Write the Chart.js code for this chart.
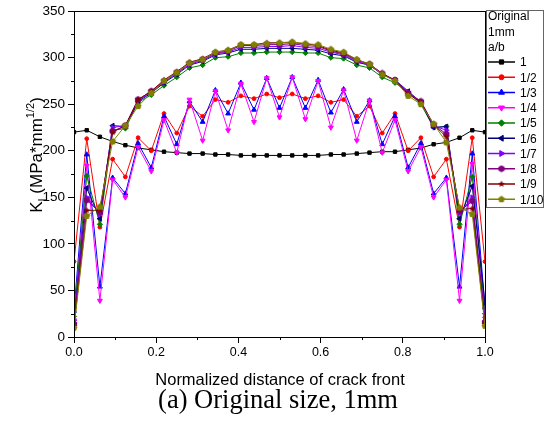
<!DOCTYPE html>
<html>
<head>
<meta charset="utf-8">
<script src="https://cdn.jsdelivr.net/npm/chart.js@4.4.0/dist/chart.umd.min.js"></script>
<style>
  body { margin: 0; background: #fff; }
</style>
</head>
<body>
<canvas id="kChart" width="554" height="422"></canvas>
<script>
// positions along the crack front (33 nodes)
const xPos = [0, 0.031, 0.063, 0.094, 0.125, 0.156, 0.188, 0.219, 0.25, 0.281, 0.313,
  0.344, 0.375, 0.406, 0.438, 0.469, 0.5, 0.531, 0.563, 0.594, 0.625, 0.656, 0.688,
  0.719, 0.75, 0.781, 0.813, 0.844, 0.875, 0.906, 0.938, 0.969, 1];

const labels = ["1", "1/2", "1/3", "1/4", "1/5", "1/6", "1/7", "1/8", "1/9", "1/10"];

// K_I values, one list per a/b ratio
const ab1 = [220, 222, 215, 210, 206, 203, 201, 199, 198, 197, 197, 196, 196, 195, 195, 195, 195,
  195, 195, 195, 196, 196, 197, 198, 199, 199, 201, 203, 207, 209, 214, 222, 220];
const ab2 = [81, 213, 118, 191, 172, 214, 200, 240, 219, 248, 237, 255, 252, 259, 256, 261, 257,
  261, 256, 259, 252, 255, 237, 248, 219, 240, 200, 214, 172, 191, 118, 214, 81];
const ab3 = [28, 196, 54, 171, 154, 208, 182, 237, 207, 253, 231, 265, 240, 273, 244, 278, 246,
  279, 246, 276, 241, 266, 231, 254, 207, 237, 182, 208, 154, 171, 54, 197, 32];
const ab4 = [18, 184, 39, 169, 150, 204, 178, 233, 198, 255, 211, 264, 222, 272, 231, 278, 236,
  279, 234, 275, 225, 265, 211, 254, 198, 233, 178, 204, 150, 169, 39, 186, 20];
const ab5 = [22, 173, 121, 222, 224, 252, 260, 270, 279, 289, 292, 300, 301, 305, 305, 306, 306,
  306, 305, 305, 300, 299, 292, 289, 279, 273, 263, 250, 225, 226, 121, 172, 25];
const ab6 = [15, 160, 127, 227, 226, 253, 262, 273, 282, 292, 296, 303, 305, 309, 309, 310, 310,
  310, 309, 308, 304, 302, 295, 292, 282, 276, 264, 252, 225, 226, 127, 162, 36];
const ab7 = [18, 150, 132, 225, 227, 254, 263, 274, 283, 293, 297, 304, 306, 311, 311, 312, 312,
  313, 311, 310, 306, 303, 296, 292, 282, 276, 263, 253, 227, 222, 133, 150, 20];
const ab8 = [14, 147, 134, 221, 227, 255, 264, 275, 284, 294, 298, 305, 307, 313, 313, 314, 314,
  315, 313, 312, 307, 304, 297, 293, 283, 276, 262, 253, 228, 218, 135, 146, 16];
const ab9 = [12, 136, 136, 220, 227, 255, 264, 276, 285, 295, 299, 306, 308, 314, 314, 316, 316,
  316, 315, 313, 308, 305, 298, 293, 283, 275, 261, 252, 228, 215, 137, 138, 14];
const ab10 = [10, 130, 140, 210, 227, 248, 262, 275, 284, 294, 298, 306, 308, 314, 314, 315, 316,
  317, 315, 314, 309, 306, 298, 293, 282, 275, 259, 250, 229, 209, 139, 132, 12];

const allSeries = [ab1, ab2, ab3, ab4, ab5, ab6, ab7, ab8, ab9, ab10];
const colors = ["#000000", "#ff0000", "#0000ff", "#ff00ff", "#008000",
  "#000080", "#8000ff", "#800080", "#800000", "#808000"];

// small bitmaps for the marker shapes Chart.js lacks
function shapeCanvas(color, sides, star) {
  const c = document.createElement("canvas");
  c.width = 8; c.height = 8;
  const g = c.getContext("2d");
  g.fillStyle = color;
  g.beginPath();
  const n = star ? sides * 2 : sides;
  for (let i = 0; i < n; i++) {
    const ang = -Math.PI / 2 + i * Math.PI * 2 / n;
    const r = star && i % 2 ? 1.6 : 3.6;
    g.lineTo(4 + r * Math.cos(ang), 4 + r * Math.sin(ang));
  }
  g.closePath();
  g.fill();
  return c;
}

const markers = [
  { style: "rect", rot: 0, r: 2.4 },
  { style: "circle", rot: 0, r: 1.9 },
  { style: "triangle", rot: 0, r: 2.8 },
  { style: "triangle", rot: 180, r: 2.8 },
  { style: "rectRot", rot: 0, r: 2.6 },
  { style: "triangle", rot: -90, r: 2.8 },
  { style: "triangle", rot: 90, r: 2.8 },
  { style: shapeCanvas(colors[7], 6, false), rot: 0, r: 2.5 },
  { style: shapeCanvas(colors[8], 5, true), rot: 0, r: 2.5 },
  { style: shapeCanvas(colors[9], 5, false), rot: 0, r: 2.5 }
];

const datasets = allSeries.map((vals, i) => ({
  label: labels[i],
  data: xPos.map((x, j) => ({ x: x, y: vals[j] })),
  borderColor: colors[i],
  backgroundColor: colors[i],
  borderWidth: 1,
  pointStyle: markers[i].style,
  pointRotation: markers[i].rot,
  pointRadius: markers[i].r,
  pointBorderWidth: 1,
  order: allSeries.length - i
}));

const font = "Liberation Sans";

// frame, minor ticks, axis titles, caption and the boxed legend
const decor = {
  id: "decor",
  afterDraw(chart) {
    const { ctx, chartArea: a, scales } = chart;
    ctx.save();
    ctx.strokeStyle = "#000";
    ctx.lineWidth = 1;
    ctx.strokeRect(Math.round(a.left) + 0.5, Math.round(a.top) + 0.5,
      Math.round(a.right - a.left), Math.round(a.bottom - a.top));

    ctx.beginPath();
    scales.x.ticks.forEach((t, i) => {
      if (i % 2 === 1) {
        const px = Math.round(scales.x.getPixelForValue(t.value)) + 0.5;
        ctx.moveTo(px, a.bottom); ctx.lineTo(px, a.bottom + 3);
      }
    });
    scales.y.ticks.forEach((t, i) => {
      if (i % 2 === 1) {
        const py = Math.round(scales.y.getPixelForValue(t.value)) + 0.5;
        ctx.moveTo(a.left, py); ctx.lineTo(a.left - 3, py);
      }
    });
    ctx.stroke();

    ctx.fillStyle = "#000";
    ctx.textAlign = "center";
    ctx.textBaseline = "alphabetic";
    ctx.font = "16.5px " + font;
    ctx.fillText("Normalized distance of crack front", 280, 385);
    ctx.font = "26.5px 'Liberation Serif'";
    ctx.fillText("(a) Original size, 1mm", 278, 408);

    // y title with sub/superscript
    ctx.save();
    ctx.translate(42, 155);
    ctx.rotate(-Math.PI / 2);
    ctx.textAlign = "left";
    const parts = [
      { t: "K", f: "17px " + font, dy: 0 },
      { t: "I", f: "11px " + font, dy: 4 },
      { t: " (MPa*mm", f: "17px " + font, dy: 0 },
      { t: "1/2", f: "11px " + font, dy: -8 },
      { t: ")", f: "17px " + font, dy: 0 }
    ];
    let total = 0;
    parts.forEach(p => { ctx.font = p.f; p.w = ctx.measureText(p.t).width; total += p.w; });
    let cx = -total / 2;
    parts.forEach(p => { ctx.font = p.f; ctx.fillText(p.t, cx, p.dy); cx += p.w; });
    ctx.restore();

    // legend
    ctx.strokeStyle = "#666";
    ctx.strokeRect(486.5, 10.5, 57, 197);
    ctx.textAlign = "left";
    ctx.textBaseline = "middle";
    ctx.font = "12px " + font;
    ctx.fillText("Original", 488, 17);
    ctx.fillText("1mm", 488, 33);
    ctx.fillText("a/b", 488, 48);
    datasets.forEach((d, i) => {
      const y = 62 + i * 15.25;
      ctx.strokeStyle = d.borderColor;
      ctx.fillStyle = d.borderColor;
      ctx.lineWidth = 1.5;
      ctx.beginPath();
      ctx.moveTo(488, y); ctx.lineTo(515, y);
      ctx.stroke();
      ctx.lineWidth = 1;
      Chart.helpers.drawPoint(ctx, {
        pointStyle: d.pointStyle, rotation: d.pointRotation,
        radius: d.pointRadius + 0.6, borderWidth: 1
      }, 501.5, y);
      ctx.fillStyle = "#000";
      ctx.fillText(d.label, 520, y + 1);
    });
    ctx.restore();
  }
};

new Chart(document.getElementById("kChart"), {
  type: "line",
  data: { datasets },
  options: {
    responsive: false,
    animation: false,
    layout: { padding: { left: 0, top: 10, right: 69, bottom: 0 }, autoPadding: false },
    plugins: { legend: { display: false }, tooltip: { enabled: false } },
    scales: {
      x: {
        type: "linear", min: 0, max: 1,
        ticks: {
          stepSize: 0.1, autoSkip: false, maxRotation: 0, padding: 2, color: "#000",
          font: { family: font, size: 12.5 },
          callback: (v, i) => i % 2 === 0 ? v.toFixed(1) : ""
        },
        grid: {
          drawOnChartArea: false, tickLength: 6,
          tickColor: c => c.index % 2 === 0 ? "#000" : "rgba(0,0,0,0)"
        },
        border: { color: "#000" },
        afterFit: s => { s.height = 85; }
      },
      y: {
        min: 0, max: 350,
        ticks: {
          stepSize: 25, autoSkip: false, padding: 3, color: "#000",
          font: { family: font, size: 13.5 },
          callback: (v, i) => v % 50 === 0 ? v : ""
        },
        grid: {
          drawOnChartArea: false, tickLength: 6,
          tickColor: c => c.index % 2 === 0 ? "#000" : "rgba(0,0,0,0)"
        },
        border: { color: "#000" },
        afterFit: s => { s.width = 74; }
      }
    }
  },
  plugins: [decor]
});
</script>
</body>
</html>
